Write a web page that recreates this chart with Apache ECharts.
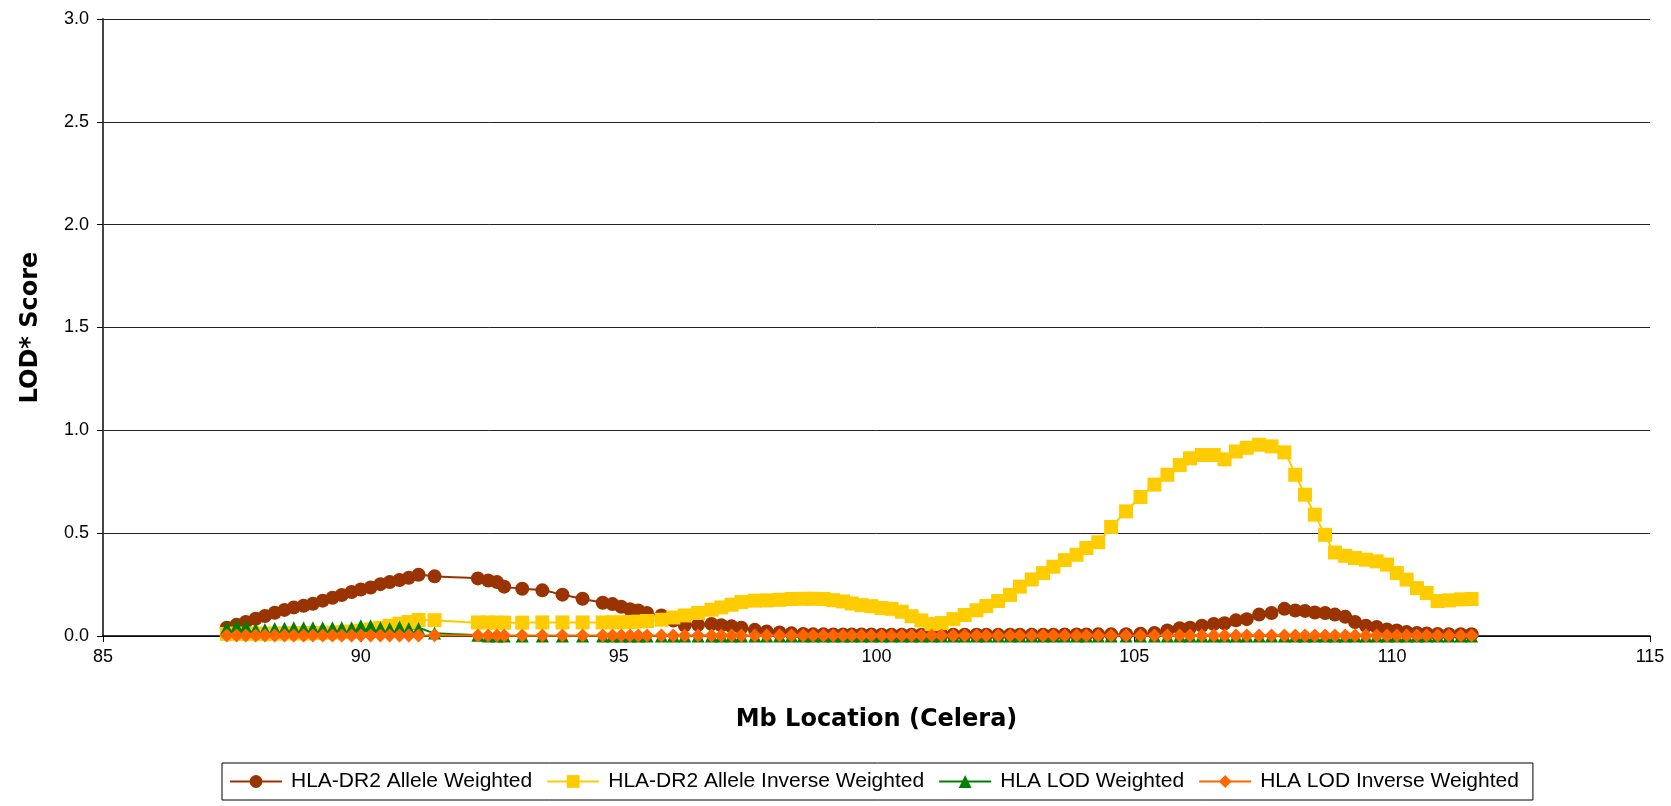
<!DOCTYPE html>
<html>
<head>
<meta charset="utf-8">
<script src="https://cdn.jsdelivr.net/npm/echarts@6/dist/echarts.min.js"></script>
<style>
html,body{margin:0;padding:0;background:#fff;}
#chart{width:1671px;height:806px;}
</style>
</head>
<body>
<div id="chart"></div>
<script>
// Mb location (Celera) of each marker
var mbLocation = [
  87.40, 87.59, 87.77, 87.96, 88.14, 88.33, 88.52, 88.70, 88.89, 89.07,
  89.26, 89.45, 89.63, 89.82, 90.00, 90.19, 90.38, 90.56, 90.75, 90.93,
  91.12, 91.43, 92.27, 92.47, 92.64, 92.78, 93.13, 93.52, 93.91, 94.30,
  94.69, 94.88, 95.05, 95.22, 95.38, 95.55, 95.83, 96.06, 96.28, 96.54,
  96.80, 96.99, 97.19, 97.38, 97.64, 97.87, 98.12, 98.35, 98.58, 98.77,
  98.97, 99.16, 99.35, 99.52, 99.71, 99.90, 100.10, 100.29, 100.49, 100.68,
  100.87, 101.07, 101.26, 101.49, 101.71, 101.94, 102.13, 102.36, 102.59, 102.78,
  103.01, 103.23, 103.43, 103.65, 103.88, 104.07, 104.30, 104.55, 104.84, 105.12,
  105.39, 105.64, 105.88, 106.08, 106.31, 106.54, 106.75, 106.97, 107.18, 107.42,
  107.66, 107.91, 108.12, 108.31, 108.50, 108.70, 108.89, 109.09, 109.28, 109.49,
  109.70, 109.90, 110.09, 110.28, 110.48, 110.67, 110.88, 111.10, 111.33, 111.54
];

var alleleWeighted = [
  0.040, 0.055, 0.068, 0.084, 0.097, 0.113, 0.127, 0.139, 0.147, 0.157,
  0.172, 0.186, 0.199, 0.214, 0.226, 0.236, 0.252, 0.262, 0.272, 0.283,
  0.298, 0.290, 0.280, 0.270, 0.262, 0.240, 0.230, 0.222, 0.201, 0.181,
  0.162, 0.155, 0.142, 0.130, 0.124, 0.112, 0.100, 0.075, 0.052, 0.055,
  0.058, 0.052, 0.047, 0.040, 0.030, 0.022, 0.017, 0.013, 0.010, 0.008,
  0.008, 0.007, 0.007, 0.007, 0.007, 0.007, 0.006, 0.006, 0.006, 0.006,
  0.006, 0.006, 0.006, 0.006, 0.006, 0.006, 0.006, 0.006, 0.006, 0.006,
  0.006, 0.006, 0.006, 0.007, 0.007, 0.007, 0.008, 0.008, 0.009, 0.011,
  0.015, 0.027, 0.038, 0.040, 0.050, 0.058, 0.062, 0.076, 0.082, 0.104,
  0.112, 0.132, 0.124, 0.122, 0.114, 0.112, 0.104, 0.093, 0.068, 0.050,
  0.044, 0.032, 0.027, 0.019, 0.015, 0.012, 0.010, 0.009, 0.009, 0.009
];

var alleleInverseWeighted = [
  0.010, 0.012, 0.010, 0.012, 0.010, 0.012, 0.012, 0.014, 0.012, 0.014,
  0.015, 0.016, 0.018, 0.022, 0.026, 0.032, 0.040, 0.050, 0.060, 0.068,
  0.078, 0.077, 0.066, 0.066, 0.065, 0.065, 0.065, 0.066, 0.066, 0.066,
  0.066, 0.067, 0.067, 0.068, 0.070, 0.073, 0.079, 0.090, 0.100, 0.112,
  0.128, 0.139, 0.152, 0.165, 0.172, 0.173, 0.176, 0.180, 0.181, 0.181,
  0.180, 0.174, 0.168, 0.158, 0.150, 0.145, 0.136, 0.132, 0.118, 0.096,
  0.076, 0.058, 0.063, 0.082, 0.102, 0.125, 0.146, 0.170, 0.200, 0.240,
  0.275, 0.306, 0.337, 0.369, 0.395, 0.428, 0.456, 0.530, 0.606, 0.676,
  0.736, 0.784, 0.831, 0.864, 0.880, 0.880, 0.859, 0.897, 0.915, 0.930,
  0.922, 0.893, 0.784, 0.687, 0.590, 0.492, 0.406, 0.390, 0.379, 0.371,
  0.363, 0.347, 0.306, 0.274, 0.233, 0.209, 0.170, 0.173, 0.178, 0.180
];

var lodWeighted = [
  0.040, 0.048, 0.046, 0.033, 0.031, 0.036, 0.038, 0.040, 0.040, 0.040,
  0.040, 0.040, 0.040, 0.040, 0.050, 0.050, 0.040, 0.036, 0.044, 0.036,
  0.036, 0.015, 0.004, 0.000, 0.000, 0.000, 0.000, 0.000, 0.000, 0.000,
  0.000, 0.000, 0.000, 0.000, 0.000, 0.000, 0.000, 0.000, 0.000, 0.000,
  0.000, 0.000, 0.000, 0.000, 0.000, 0.000, 0.000, 0.000, 0.000, 0.000,
  0.000, 0.000, 0.000, 0.000, 0.000, 0.000, 0.000, 0.000, 0.000, 0.000,
  0.000, 0.000, 0.000, 0.000, 0.000, 0.000, 0.000, 0.000, 0.000, 0.000,
  0.000, 0.000, 0.000, 0.000, 0.000, 0.000, 0.000, 0.000, 0.000, 0.000,
  0.000, 0.000, 0.000, 0.000, 0.000, 0.000, 0.000, 0.000, 0.000, 0.000,
  0.000, 0.000, 0.000, 0.000, 0.000, 0.000, 0.000, 0.000, 0.000, 0.000,
  0.000, 0.000, 0.000, 0.000, 0.000, 0.000, 0.000, 0.000, 0.000, 0.000
];

var lodInverseWeighted = [
  0.002, 0.002, 0.002, 0.002, 0.002, 0.002, 0.002, 0.002, 0.002, 0.002,
  0.002, 0.002, 0.002, 0.002, 0.002, 0.002, 0.002, 0.002, 0.002, 0.002,
  0.002, 0.004, 0.002, 0.002, 0.002, 0.002, 0.002, 0.002, 0.002, 0.002,
  0.002, 0.002, 0.002, 0.002, 0.002, 0.002, 0.002, 0.002, 0.002, 0.002,
  0.002, 0.002, 0.002, 0.002, 0.002, 0.002, 0.002, 0.002, 0.002, 0.002,
  0.002, 0.002, 0.002, 0.002, 0.002, 0.002, 0.002, 0.002, 0.002, 0.002,
  0.002, 0.002, 0.002, 0.002, 0.002, 0.002, 0.002, 0.002, 0.002, 0.002,
  0.002, 0.002, 0.002, 0.002, 0.002, 0.002, 0.002, 0.002, 0.002, 0.002,
  0.002, 0.002, 0.002, 0.002, 0.002, 0.002, 0.002, 0.002, 0.002, 0.002,
  0.002, 0.002, 0.002, 0.002, 0.002, 0.002, 0.002, 0.002, 0.002, 0.002,
  0.002, 0.002, 0.002, 0.002, 0.002, 0.002, 0.002, 0.002, 0.002, 0.002
];

var seriesNames = [
  'HLA-DR2 Allele Weighted',
  'HLA-DR2 Allele Inverse Weighted',
  'HLA LOD Weighted',
  'HLA LOD Inverse Weighted'
];
var xTitle = 'Mb Location (Celera)';
var yTitle = 'LOD* Score';

function pairs(ys) {
  return mbLocation.map(function (x, i) { return [x, ys[i]]; });
}

var styles = [
  {color: '#993300', symbol: 'circle', size: 14},
  {color: '#FFCC00', symbol: 'rect', size: 14},
  {color: '#008000', symbol: 'triangle', size: 13},
  {color: '#FF6600', symbol: 'diamond', size: 14}
];
var values = [alleleWeighted, alleleInverseWeighted, lodWeighted, lodInverseWeighted];

var series = seriesNames.map(function (name, k) {
  var s = styles[k];
  return {
    name: name,
    type: 'line',
    data: pairs(values[k]),
    smooth: 0.3,
    symbol: s.symbol,
    symbolSize: s.size,
    showAllSymbol: true,
    clip: false,
    lineStyle: {color: s.color, width: 2},
    itemStyle: {color: s.color, borderWidth: 0},
    emphasis: {disabled: true}
  };
});

var chart = echarts.init(document.getElementById('chart'), null, {renderer: 'canvas'});
chart.setOption({
  animation: false,
  backgroundColor: '#ffffff',
  grid: {left: 103, right: 21, top: 19, bottom: 170, containLabel: false},
  legend: {
    data: seriesNames,
    left: 222,
    top: 763,
    width: 1400,
    padding: [8, 14, 8, 7],
    borderColor: '#000',
    borderWidth: 1,
    itemWidth: 52,
    itemHeight: 16,
    itemGap: 14,
    textStyle: {fontFamily: 'Liberation Sans, Arial, sans-serif', fontSize: 21, color: '#000', padding: [0, 0, 0, 4]}
  },
  xAxis: {
    type: 'value',
    min: 85, max: 115, interval: 5,
    name: xTitle,
    nameLocation: 'middle',
    nameGap: 72,
    nameTextStyle: {fontFamily: 'DejaVu Sans', fontWeight: 'bold', fontSize: 24, color: '#000'},
    axisLine: {show: true, lineStyle: {color: '#000', width: 1.5}},
    axisTick: {show: true, length: 6, inside: false, lineStyle: {color: '#000'}},
    axisLabel: {fontFamily: 'Liberation Sans, Arial, sans-serif', fontSize: 18, color: '#000', margin: 12},
    splitLine: {show: false}
  },
  yAxis: {
    type: 'value',
    min: 0, max: 3, interval: 0.5,
    name: yTitle,
    nameLocation: 'middle',
    nameRotate: 90,
    nameGap: 60,
    nameTextStyle: {fontFamily: 'DejaVu Sans', fontWeight: 'bold', fontSize: 24, color: '#000'},
    axisLine: {show: true, lineStyle: {color: '#444', width: 2}},
    axisTick: {show: true, length: 6, inside: false, lineStyle: {color: '#000'}},
    axisLabel: {
      fontFamily: 'Liberation Sans, Arial, sans-serif', fontSize: 18, color: '#000', margin: 14,
      formatter: function (v) { return v.toFixed(1); }
    },
    splitLine: {show: true, lineStyle: {color: '#222', width: 1}}
  },
  series: series
});
</script>
</body>
</html>
